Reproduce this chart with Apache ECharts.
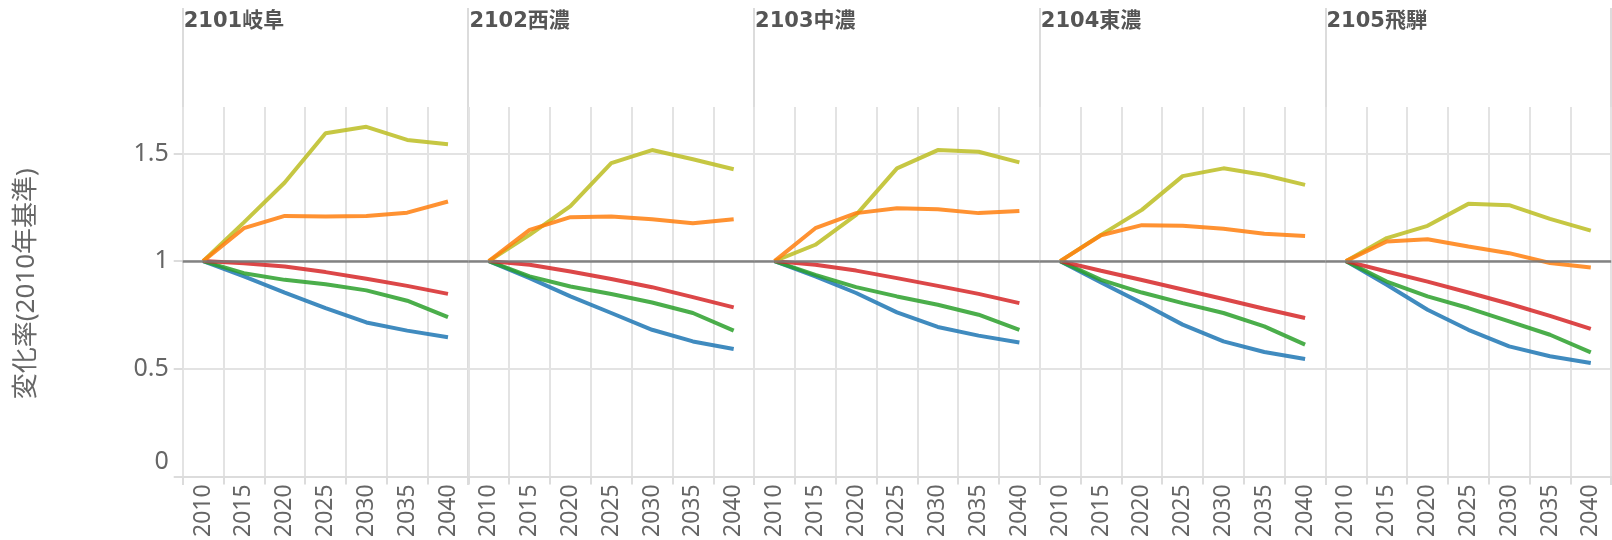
<!DOCTYPE html>
<html>
<head>
<meta charset="utf-8">
<script src="https://cdn.jsdelivr.net/npm/echarts@6/dist/echarts.min.js"></script>
<style>
html,body{margin:0;padding:0;background:#fff;}
#chart{width:1612px;height:540px;}
</style>
</head>
<body>
<div id="chart"></div>
<script>
const years = ['2010','2015','2020','2025','2030','2035','2040'];
const regions = ['2101岐阜','2102西濃','2103中濃','2104東濃','2105飛騨'];
const yTickValues = [0, 0.5, 1, 1.5];
const yAxisTitle = '変化率(2010年基準)';

// one row per region (岐阜, 西濃, 中濃, 東濃, 飛騨)
const oliveLine = [
  [1, 1.18, 1.365, 1.594, 1.624, 1.563, 1.543],
  [1, 1.122, 1.256, 1.455, 1.516, 1.473, 1.427],
  [1, 1.076, 1.215, 1.431, 1.516, 1.508, 1.459],
  [1, 1.122, 1.238, 1.395, 1.431, 1.40, 1.354],
  [1, 1.107, 1.164, 1.266, 1.26, 1.196, 1.142]
];
const orangeLine = [
  [1, 1.153, 1.21, 1.207, 1.21, 1.225, 1.277],
  [1, 1.145, 1.204, 1.207, 1.195, 1.176, 1.195],
  [1, 1.153, 1.223, 1.246, 1.241, 1.223, 1.233],
  [1, 1.12, 1.167, 1.164, 1.15, 1.127, 1.117],
  [1, 1.091, 1.102, 1.068, 1.037, 0.991, 0.97]
];
const redLine = [
  [1, 0.99, 0.975, 0.949, 0.918, 0.885, 0.848],
  [1, 0.983, 0.952, 0.917, 0.879, 0.833, 0.785],
  [1, 0.983, 0.956, 0.921, 0.885, 0.848, 0.805],
  [1, 0.955, 0.912, 0.868, 0.824, 0.779, 0.736],
  [1, 0.952, 0.905, 0.854, 0.802, 0.746, 0.685]
];
const greenLine = [
  [1, 0.944, 0.913, 0.893, 0.864, 0.816, 0.74],
  [1, 0.929, 0.882, 0.847, 0.808, 0.759, 0.677],
  [1, 0.936, 0.879, 0.836, 0.797, 0.751, 0.681],
  [1, 0.913, 0.854, 0.805, 0.759, 0.697, 0.612],
  [1, 0.905, 0.836, 0.782, 0.72, 0.658, 0.576]
];
const blueLine = [
  [1, 0.929, 0.854, 0.782, 0.715, 0.677, 0.646],
  [1, 0.921, 0.836, 0.759, 0.681, 0.627, 0.592],
  [1, 0.929, 0.852, 0.762, 0.694, 0.654, 0.622],
  [1, 0.901, 0.805, 0.705, 0.627, 0.578, 0.545],
  [1, 0.89, 0.774, 0.681, 0.604, 0.558, 0.527]
];

const lineDefs = [
  {data: blueLine, color: '#1F77B4'},
  {data: greenLine, color: '#2CA02C'},
  {data: redLine, color: '#D62728'},
  {data: oliveLine, color: '#BCBD22'},
  {data: orangeLine, color: '#FF7F0E'}
];

const FONT = "'Noto Sans', 'Noto Sans CJK JP', sans-serif";
const HFONT = "'DejaVu Sans', 'Noto Sans CJK JP', sans-serif";
const left0 = 182.7, pw = 285.7, gTop = 107, gH = 370;
const gridColor = '#e3e3e3';

const grids = [], xAxes = [], yAxes = [], series = [], titles = [], graphics = [];
regions.forEach((name, i) => {
  const left = left0 + i * pw;
  grids.push({left: left, top: gTop, width: pw, height: gH, containLabel: false});
  titles.push({text: name, left: left + 1, top: 11, padding: 0,
    textStyle: {fontFamily: HFONT, fontSize: 21, fontWeight: 'bold', color: '#555'}});
  xAxes.push({
    type: 'category', gridIndex: i, data: years, boundaryGap: true,
    axisLine: {show: true, lineStyle: {color: '#dcdcdc', width: 2}},
    axisTick: {show: true, length: 8, lineStyle: {color: '#dcdcdc', width: 2}, interval: 0},
    splitLine: {show: true, interval: 0, lineStyle: {color: gridColor, width: 2}},
    axisLabel: {rotate: 90, interval: 0, fontSize: 23, color: '#666', margin: 8, fontFamily: FONT}
  });
  yAxes.push({
    type: 'value', gridIndex: i, min: 0, max: 1.716, interval: 0.5,
    axisLine: {show: false},
    axisTick: {show: i === 0, length: 9, customValues: yTickValues, lineStyle: {color: '#dcdcdc', width: 2}},
    axisLabel: {show: i === 0, customValues: yTickValues, fontSize: 25, color: '#666', margin: 14, fontFamily: FONT,
      formatter: v => v === 0 ? '{zero|0}' : String(v),
      rich: {zero: {fontSize: 25, color: '#666', fontFamily: FONT, padding: [0, 0, 30, 0]}}},
    splitLine: {show: true, lineStyle: {color: gridColor, width: 2}},
    name: i === 0 ? yAxisTitle : '',
    nameLocation: 'middle', nameGap: 143,
    nameTextStyle: {fontSize: 26, color: '#666', fontFamily: FONT, padding: [0, 0, 0, 16]}
  });
  lineDefs.forEach(def => {
    series.push({
      type: 'line', xAxisIndex: i, yAxisIndex: i, data: def.data[i],
      symbol: 'none', smooth: false, silent: true,
      lineStyle: {color: def.color, width: 4, opacity: 0.85},
      itemStyle: {color: def.color}
    });
  });
  series.push({
    type: 'line', xAxisIndex: i, yAxisIndex: i, data: [], z: 5,
    markLine: {silent: true, symbol: 'none', label: {show: false},
      lineStyle: {color: '#777777', width: 2.5, type: 'solid', opacity: 0.9},
      data: [{yAxis: 1}]}
  });
});
for (let i = 0; i <= regions.length; i++) {
  const x = Math.round(left0 + i * pw);
  graphics.push({type: 'line', shape: {x1: x, y1: 8, x2: x, y2: gTop + gH + 8},
    style: {stroke: '#dcdcdc', lineWidth: 2}, z: 0, silent: true});
}

const chart = echarts.init(document.getElementById('chart'), null, {renderer: 'canvas'});
chart.setOption({
  animation: false,
  backgroundColor: '#fff',
  title: titles,
  grid: grids,
  xAxis: xAxes,
  yAxis: yAxes,
  series: series,
  graphic: graphics
});
</script>
</body>
</html>
